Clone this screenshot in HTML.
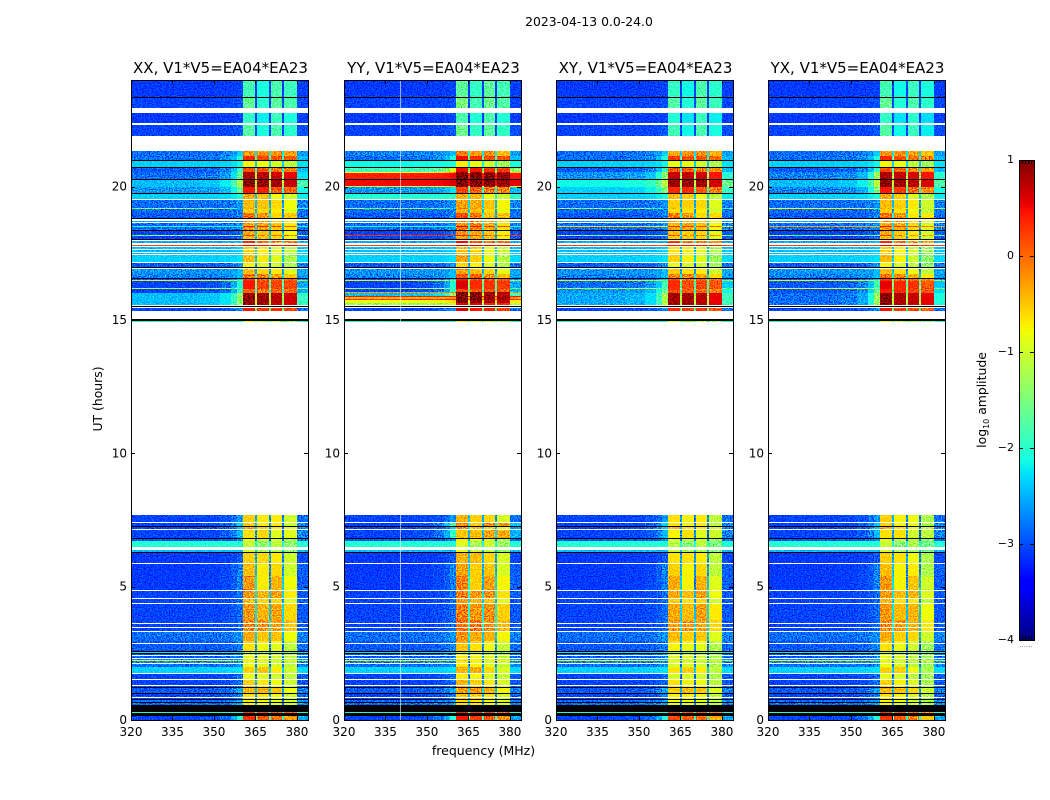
<!DOCTYPE html>
<html lang="en">
<head>
<meta charset="utf-8">
<title>2023-04-13 0.0-24.0</title>
<style>
html,body{margin:0;padding:0;background:#fff;}
svg{display:block;font-family:"DejaVu Sans","Liberation Sans",sans-serif;}
text{fill:#000;}
</style>
</head>
<body>
<svg id="chart" xmlns="http://www.w3.org/2000/svg" width="1050" height="800" viewBox="0 0 1050 800">
  <defs>
    <filter id="speckle" x="0" y="0" width="100%" height="100%" color-interpolation-filters="sRGB">
      <feTurbulence type="fractalNoise" baseFrequency="0.75 0.85" numOctaves="1" seed="4"/>
      <feColorMatrix type="matrix" values="3.5 0 0 0 -1.25  3.5 0 0 0 -1.25  3.5 0 0 0 -1.25  0 0 0 0 1"/>
    </filter>
  </defs>
  <text x="589" y="26" font-size="12.4" text-anchor="middle">2023-04-13 0.0-24.0</text>
  <text transform="translate(102,399) rotate(-90)" font-size="12.4" text-anchor="middle">UT (hours)</text>
  <text x="483.5" y="755" font-size="12.5" text-anchor="middle">frequency (MHz)</text>
  <text transform="translate(986,400) rotate(-90)" font-size="12.4" text-anchor="middle">log<tspan font-size="8" dy="3">10</tspan><tspan dy="-3"> amplitude</tspan></text>
  <g id="panels"></g>
  <g id="colorbar"></g>
</svg>
<script>
const W = null;   // flagged integration: nothing plotted
const K = -9;     // below range: plotted black

const panelTitles = ["XX, V1*V5=EA04*EA23", "YY, V1*V5=EA04*EA23", "XY, V1*V5=EA04*EA23", "YX, V1*V5=EA04*EA23"];
const xTickValues = [320, 335, 350, 365, 380];
const yTickValues = [0, 5, 10, 15, 20];
const colorbarTicks = [1, 0, -1, -2, -3, -4];

// band rows: [top hour, background, ramp near 360 MHz, channel 1, channel 2, channel 3, channel 4]
const bandsBase = [
[24.00,-3.05,-3.0,-1.8,-2.0,-1.7,-1.8],[23.36,K],[23.33,-3.0,-2.95,-1.6,-1.9,-1.6,-1.7],[22.95,W],
[22.76,-3.05,-3.0,-1.9,-2.1,-1.8,-2.0],[22.37,W],[22.33,-3.0,-2.9,-1.7,-2.0,-1.7,-1.9],[21.99,W],
[21.96,-3.0,-2.9,-1.7,-2.0,-1.7,-1.9],[21.91,W],
[21.34,-2.8,-2.3,-0.2,-0.1,-0.1,-0.2],[21.15,-2.8,-2.0,0.4,0.3,0.2,0.2],[21.00,K],
[20.96,-2.3,-2.1,-0.7,-0.7,-0.9,-1.0],[20.74,K],[20.70,-2.9,-1.9,0.2,0.2,0.0,0.0],
[20.55,-2.8,-1.6,0.85,0.85,0.75,0.65],[20.29,K],[20.25,-2.4,-1.2,1.0,1.0,0.95,0.8],
[20.00,-2.6,-1.6,0.5,0.5,0.2,0.1],[19.76,K],[19.73,-2.3,-2.0,-0.3,-0.4,-0.7,-0.9],[19.54,W],
[19.50,-2.8,-2.6,-0.4,-0.4,-0.5,-0.7],[19.20,-1.4,-2.4,-0.3,-0.4,-0.5,-0.7],
[19.16,-2.8,-2.7,-0.5,-0.5,-0.6,-0.8],[19.00,-2.9,-2.7,0.05,-0.1,-0.5,-0.4],[18.84,K],
[18.80,W],[18.72,-2.5,-2.5,-0.2,-0.2,-0.4,-0.6],[18.67,W],[18.64,-2.8,-2.6,-0.3,-0.2,-0.4,-0.6],
[18.53,-2.0,-2.0,0.5,0.4,0.3,0.2],[18.49,-2.8,-2.6,-0.2,-0.2,-0.4,-0.6],[18.38,K],
[18.32,-3.0,-2.8,-0.3,-0.4,-0.5,-0.7],[18.19,-1.5,-1.5,0.3,0.0,0.0,0.0],
[18.15,-3.0,-2.8,-0.4,-0.4,-0.5,-0.7],[18.04,K],[18.00,W],[17.96,-2.5,-2.4,0.4,0.1,0.0,0.0],
[17.87,W],[17.83,0.2,0.2,0.6,0.6,0.6,0.6],[17.79,W],[17.72,-2.4,-2.3,-0.5,-0.6,-0.8,-1.0],
[17.66,W],[17.62,-2.4,-2.3,-0.5,-0.6,-0.8,-1.0],[17.55,W],[17.51,-2.4,-2.3,-0.5,-0.6,-0.8,-1.0],
[17.46,W],[17.42,-2.3,-2.2,-0.4,-0.6,-0.8,-1.1],[17.19,W],[17.15,-2.9,-2.6,-0.7,-0.8,-0.9,-1.1],
[17.00,K],[16.96,W],[16.92,-2.6,-2.4,-0.4,-0.5,-0.6,-0.8],[16.72,-2.7,-2.4,0.0,0.0,-0.2,-0.4],
[16.59,K],[16.55,-2.9,-2.3,0.3,0.1,0.1,0.1],[16.50,-1.0,-1.6,0.4,0.2,0.2,0.2],
[16.46,-3.0,-2.0,0.5,0.3,0.3,0.3],[16.20,-1.2,-1.8,0.5,0.3,0.3,0.3],[16.16,-3.0,-1.9,0.1,0.0,0.1,0.1],
[16.00,-2.4,-1.4,0.95,0.95,0.85,0.75],[15.58,W],[15.53,K],[15.49,W],[15.45,-3.0,-2.6,0.5,0.4,0.4,0.3],
[15.34,W],[15.02,K],[14.98,-2.0,-2.0,-0.8,-1.0,-1.0,-1.2],[14.93,W],
[7.69,-3.0,-2.6,-0.5,-0.6,-0.6,-0.9],[7.42,W],[7.38,-3.0,-2.3,-0.5,-0.6,-0.6,-0.9],[7.26,K],
[7.22,-3.0,-2.3,-0.3,-0.5,-0.6,-0.8],[7.16,W],[7.13,-3.0,-2.4,-0.6,-0.5,-0.8,-0.8],[6.82,K],
[6.79,-2.9,-2.7,-0.8,-0.9,-0.9,-1.1],[6.71,-2.0,-2.0,-1.0,-1.3,-1.0,-1.3],[6.47,W],
[6.39,-2.4,-2.4,-0.9,-1.1,-1.1,-1.3],[6.30,K],[6.26,-3.05,-2.9,-0.5,-0.5,-0.6,-0.9],[5.89,W],
[5.85,-3.05,-2.7,-0.4,-0.6,-0.5,-0.9],[5.40,-3.05,-2.7,-0.2,-0.6,-0.3,-0.7],[4.86,W],
[4.82,-3.0,-2.8,-0.2,-0.3,-0.2,-0.6],[4.58,W],[4.54,-3.0,-2.8,-0.4,-0.5,-0.5,-0.8],[4.39,W],
[4.35,-3.0,-2.8,-0.2,-0.3,-0.2,-0.5],[3.75,-3.0,-2.8,-0.1,-0.1,-0.2,-0.4],[3.63,W],
[3.60,-3.0,-2.8,-0.1,-0.1,-0.2,-0.4],[3.54,W],[3.52,-3.0,-2.8,-0.1,-0.1,-0.2,-0.4],[3.47,W],
[3.45,-3.0,-2.8,-0.1,-0.1,-0.2,-0.4],[3.34,W],[3.30,-2.8,-2.6,-0.3,-0.4,-0.4,-0.7],[2.98,W],
[2.95,-2.9,-2.7,-0.5,-0.6,-0.7,-0.9],[2.89,W],[2.86,-2.9,-2.7,-0.6,-0.7,-0.8,-1.0],[2.59,K],
[2.55,-2.2,-2.2,-1.2,-1.3,-1.3,-1.4],[2.51,K],[2.48,-2.9,-2.7,-0.8,-0.8,-0.9,-1.0],[2.43,W],
[2.40,-2.9,-2.7,-0.8,-0.8,-0.9,-1.0],[2.33,W],[2.30,-2.7,-2.6,-0.8,-0.8,-0.9,-1.0],
[2.25,-1.0,-1.4,-0.7,-0.8,-0.9,-0.7],[2.21,-2.7,-2.6,-0.8,-0.8,-0.9,-1.0],[2.13,W],
[2.10,-2.8,-2.6,-0.8,-0.8,-0.9,-1.0],[1.99,-2.3,-2.2,-0.5,-0.4,-0.6,-0.9],[1.77,W],
[1.74,-3.0,-2.8,-0.8,-0.8,-0.9,-1.0],[1.53,W],[1.49,-3.0,-2.8,-0.5,-0.6,-0.7,-0.9],[1.30,W],
[1.27,-2.9,-2.7,-0.5,-0.6,-0.7,-0.9],[1.24,K],[1.20,-2.9,-2.5,-0.4,-0.3,-0.4,-0.7],[1.01,K],
[0.97,-3.0,-2.7,-0.6,-0.6,-0.7,-0.9],[0.85,W],[0.82,-3.0,-2.7,-0.6,-0.6,-0.7,-0.9],[0.78,K],
[0.74,-2.8,-2.5,-0.7,-0.7,-0.8,-0.9],[0.67,K],[0.64,-2.8,-2.5,-0.7,-0.7,-0.8,-0.9],[0.56,K],
[0.30,-2.0,-2.0,0.3,0.2,0.2,0.1],[0.26,K],[0.16,-3.0,-2.0,0.35,0.2,0.1,-0.2]
];

// per-polarisation replacement rows (same shape, merged by top hour)
const patchXX = [];
const patchYY = [
[21.34,-2.7,-2.4,-0.2,-0.3,-0.2,-0.4],[20.96,-2.1,-2.0,-0.8,-0.9,-1.0,-1.2],
[20.70,-1.8,-0.9,0.4,0.4,0.3,0.3],[20.55,-0.8,-0.2,0.8,0.8,0.7,0.7],[20.51,0.4,0.5,1.0,1.0,1.0,0.95],
[20.25,0.5,0.6,1.0,1.0,1.0,0.95],[20.03,-1.0,-0.4,0.85,0.85,0.8,0.8],[20.00,-2.6,-2.2,0.1,0.0,-0.1,-0.1],
[19.73,-2.0,-1.9,-0.5,-0.5,-0.8,-1.0],[18.19,0.3,0.3,0.3,0.0,0.0,0.0],
[16.05,-0.3,-0.1,1.0,1.0,0.9,0.9],[15.90,0.4,0.4,1.0,1.0,0.9,0.9],[15.85,-0.4,-0.2,1.0,1.0,0.9,0.9],
[15.79,0.3,0.3,1.0,1.0,0.9,0.9],[15.75,-0.8,-0.6,0.9,0.9,0.8,0.8],[15.64,-1.3,-1.0,0.5,0.5,0.4,0.4],
[7.38,-3.0,-1.7,-0.3,-0.6,-0.2,-0.2],[7.13,-3.0,-1.9,-0.6,-0.5,-0.3,-0.3]
];
const patchXY = [
[20.55,-2.6,-1.4,0.85,0.85,0.75,0.65],[20.25,-2.1,-1.1,1.05,1.05,0.95,0.85],[20.00,-2.3,-1.5,0.5,0.5,0.2,0.1],
[16.46,-2.8,-1.8,0.5,0.3,0.3,0.3],[16.16,-2.6,-1.6,0.3,0.2,0.1,0.1],[16.00,-2.5,-1.2,1.0,1.0,0.85,0.75],
[18.53,-0.6,-0.8,0.5,0.4,0.3,0.2],[17.83,0.2,0.2,0.6,0.6,0.6,0.6]
];
const patchYX = [
[20.55,-2.7,-1.3,0.85,0.85,0.8,0.75],[20.25,-2.4,-1.1,1.0,1.0,0.95,0.9],[20.00,-2.7,-1.5,0.5,0.4,0.2,0.1],
[19.20,-0.8,-1.8,-0.3,-0.4,-0.5,-0.7],[18.53,-0.3,-0.5,0.5,0.4,0.3,0.2],
[16.46,-2.9,-1.8,0.6,0.5,0.5,0.4],[16.20,-1.0,-1.6,0.6,0.5,0.5,0.4],[16.16,-2.9,-1.6,0.5,0.5,0.4,0.4],
[16.00,-2.8,-1.3,1.0,0.95,0.9,0.85]
];
const bandPatches = [patchXX, patchYY, patchXY, patchYX];

// per-polarisation channel gain (log10 amplitude)
const gainXX = [-0.05, -0.1, -0.1, -0.1];
const gainYY = [0.1, 0.05, 0.0, -0.05];
const gainXY = [-0.15, -0.15, -0.1, -0.2];
const gainYX = [-0.05, -0.15, -0.2, -0.3];
const channelGains = [gainXX, gainYY, gainXY, gainYX];

// channels (MHz) flagged through most of the day, per polarisation
const spursXX = [];
const spursYY = [340.3];
const spursXY = [];
const spursYX = [];
const spurChannels = [spursXX, spursYY, spursXY, spursYX];

const freqEdges = [320, 345, 352, 356, 358.5, 360.5, 364.8, 365.5, 369.9, 370.6, 374.6, 375.3, 380, 384];
const rampWeights = [0, 0.05, 0.2, 0.5, 1];
const backgroundShift = -0.05;

const NS = "http://www.w3.org/2000/svg";
const panelLefts = [131, 344, 556, 768];
const panelWidth = 177;
const plotTop = 80, plotBottom = 720;
const xScale = 2.766;

function xAxis(left, f) { return left + (f - 320) * xScale; }
function yAxis(h) { return plotBottom - (h / 24) * (plotBottom - plotTop); }
function jet(v) {
  const n = Math.max(0, Math.min(1, (v + 4) / 5));
  const seg = (pts) => {
    for (let i = 1; i < pts.length; i++) {
      if (n <= pts[i][0]) {
        const t = (n - pts[i - 1][0]) / (pts[i][0] - pts[i - 1][0] || 1);
        return pts[i - 1][1] + t * (pts[i][1] - pts[i - 1][1]);
      }
    }
    return pts[pts.length - 1][1];
  };
  const r = seg([[0, 0], [0.35, 0], [0.66, 1], [0.89, 1], [1, 0.5]]);
  const g = seg([[0, 0], [0.125, 0], [0.375, 1], [0.64, 1], [0.91, 0], [1, 0]]);
  const b = seg([[0, 0.5], [0.11, 1], [0.34, 1], [0.65, 0], [1, 0]]);
  return "rgb(" + Math.round(r * 255) + "," + Math.round(g * 255) + "," + Math.round(b * 255) + ")";
}
function make(tag, attrs, parent) {
  const el = document.createElementNS(NS, tag);
  for (const k in attrs) el.setAttribute(k, attrs[k]);
  parent.appendChild(el);
  return el;
}
function mergedBands(patch) {
  const patchHours = patch.map(r => r[0]);
  const kept = bandsBase.filter(r => patchHours.indexOf(r[0]) < 0);
  return kept.concat(patch).sort((a, b) => b[0] - a[0]);
}
function zoneValues(row, gain) {
  const bg = row[1] < -1.5 ? row[1] + backgroundShift : row[1];
  const ramp = row[2] < -1.5 ? row[2] + backgroundShift : row[2];
  const out = rampWeights.map(w => bg + (ramp - bg) * w);
  for (let c = 0; c < 4; c++) {
    const v = row[3 + c] + gain[c];
    out.push(v);
    if (c < 3) out.push(Math.max(bg, v - 2.0));
  }
  out.push(bg + (ramp - bg) * 0.5);
  return out;
}

const panelsRoot = document.getElementById("panels");
panelTitles.forEach(function (title, p) {
  const left = panelLefts[p];
  const g = make("g", {}, panelsRoot);
  
  

  const heat = make("g", { "shape-rendering": "crispEdges" }, g);
  
  

  const rows = mergedBands(bandPatches[p]);
  rows.forEach(function (row, i) {
    const y0 = Math.round(yAxis(row[0]));
    const y1 = Math.round(yAxis(i + 1 < rows.length ? rows[i + 1][0] : 0));
    const h = Math.max(1, y1 - y0);
    if (row[1] === null) return;
    if (row[1] === K) {
      const bar = make("rect", { x: left, y: y0, width: panelWidth, height: h, fill: "#000" }, heat);
      
      
      return;
    }
    const values = zoneValues(row, channelGains[p]);
    values.forEach(function (v, z) {
      const xa = Math.round(xAxis(left, freqEdges[z]));
      const xb = Math.round(xAxis(left, freqEdges[z + 1]));
      const cell = make("rect", { x: xa, y: y0, width: xb - xa, height: h, fill: jet(v) }, heat);
      
      
    });
  });

  const noise = make("rect", { x: left, y: plotTop, width: panelWidth, height: plotBottom - plotTop, filter: "url(#speckle)", opacity: 0.85, style: "mix-blend-mode:overlay" }, g);
  
  

  spurChannels[p].forEach(function (f) {
    const sp = make("rect", { x: Math.round(xAxis(left, f)), y: plotTop, width: 1, height: plotBottom - plotTop, fill: "#fff", opacity: 0.6 }, g);
    
    
  });

  const frame = make("rect", { x: left + 0.5, y: plotTop + 0.5, width: panelWidth, height: plotBottom - plotTop, fill: "none", stroke: "#000", "stroke-width": 1 }, g);
  
  

  const t = make("text", { x: left + panelWidth / 2 + 1, y: 73, "font-size": 15, "text-anchor": "middle" }, g);
  t.textContent = title;
  
  

  xTickValues.forEach(function (f) {
    const x = Math.round(xAxis(left, f)) + 0.5;
    const a = make("path", { d: "M" + x + " " + plotBottom + "v-4M" + x + " " + plotTop + "v4", stroke: "#000", "stroke-width": 1, fill: "none" }, g);
    
    
    const l = make("text", { x: xAxis(left, f), y: 736, "font-size": 12, "text-anchor": "middle" }, g);
    l.textContent = f;
    
    
  });
  yTickValues.forEach(function (h) {
    const y = Math.round(yAxis(h)) + 0.5;
    const a = make("path", { d: "M" + left + " " + y + "h4M" + (left + panelWidth) + " " + y + "h-4", stroke: "#000", "stroke-width": 1, fill: "none" }, g);
    
    
    const l = make("text", { x: left - 4, y: yAxis(h) + 4, "font-size": 12, "text-anchor": "end" }, g);
    l.textContent = h;
    
    
  });
});

const cb = document.getElementById("colorbar");
const cbLeft = 1019, cbWidth = 15, cbTop = 160, cbBottom = 640;
function cbAxis(v) { return cbBottom - ((v + 4) / 5) * (cbBottom - cbTop); }
const cbRamp = make("g", { "shape-rendering": "crispEdges" }, cb);


for (let py = cbTop; py < cbBottom; py += 2) {
  const band = make("rect", { x: cbLeft, y: py, width: cbWidth, height: 2, fill: jet(-4 + ((cbBottom - py - 1) / (cbBottom - cbTop)) * 5) }, cbRamp);
  
  
}
const cbFrame = make("rect", { x: cbLeft + 0.5, y: cbTop + 0.5, width: cbWidth, height: cbBottom - cbTop, fill: "none", stroke: "#000", "stroke-width": 1 }, cb);


[3, 6, 9, 12].forEach(function (dx) {
  const mark = make("path", { d: "M" + (cbLeft + dx + 0.5) + " " + cbTop + "v4M" + (cbLeft + dx + 0.5) + " " + cbBottom + "v-4", stroke: "#000", "stroke-width": 1, fill: "none" }, cb);
  
  
});
colorbarTicks.forEach(function (v) {
  const y = Math.round(cbAxis(v)) + 0.5;
  const m = make("path", { d: "M" + cbLeft + " " + y + "h4M" + (cbLeft + cbWidth) + " " + y + "h-4", stroke: "#000", "stroke-width": 1, fill: "none" }, cb);
  
  
  const l = make("text", { x: 1014, y: cbAxis(v) + 3, "font-size": 11, "text-anchor": "end" }, cb);
  l.textContent = v < 0 ? "\u2212" + Math.abs(v) : String(v);
  
  
});
const cbDots = make("text", { x: 1026, y: 647, "font-size": 7, "text-anchor": "middle", opacity: 0.6 }, cb);
cbDots.textContent = "......";


</script>
</body>
</html>
